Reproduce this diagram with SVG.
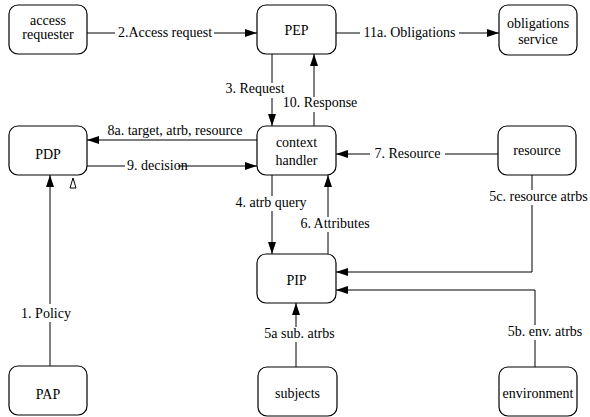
<svg xmlns="http://www.w3.org/2000/svg" width="590" height="417" viewBox="0 0 590 417">
<defs>
<marker id="ah" markerUnits="userSpaceOnUse" markerWidth="12" markerHeight="8" refX="12" refY="4" orient="auto">
<path d="M0,0 L12,4 L0,8 Z" fill="#000"/>
</marker>
<style>
.box{fill:#fff;stroke:#000;stroke-width:1.2}
.c{fill:none;stroke:#000;stroke-width:1}
.a{marker-end:url(#ah)}
.bg{fill:#fff}
</style>
</defs>
<rect width="590" height="417" fill="#fff"/>
<g id="connectors">
<path class="c a" d="M87,33 H257"/>
<path class="c a" d="M336,33 H499"/>
<path class="c a" d="M272,54 V126"/>
<path class="c a" d="M314,126 V54"/>
<path class="c a" d="M257,140 H87"/>
<path class="c" d="M87,166 H125"/>
<path class="c a" d="M178,166 H257"/>
<path class="c a" d="M50,366 V175"/>
<path class="c" d="M73,178 L70,188 L76,188 Z"/>
<path class="c a" d="M272,175 V254"/>
<path class="c a" d="M328,254 V175"/>
<path class="c a" d="M498,154 H336"/>
<path class="c a" d="M532,175 V272 H336"/>
<path class="c a" d="M535,367 V290 H336"/>
<path class="c a" d="M296,367 V303"/>
</g>
<g id="labels" font-family="Liberation Serif" font-size="14" text-anchor="middle">
<rect class="bg" x="115" y="26" width="99" height="14"/>
<text x="165" y="37">2.Access request</text>
<rect class="bg" x="360" y="26" width="99" height="14"/>
<text x="409.5" y="37">11a. Obligations</text>
<rect class="bg" x="224" y="83" width="62" height="15"/>
<text x="255" y="93">3. Request</text>
<rect class="bg" x="282" y="97" width="76" height="15"/>
<text x="320" y="107">10. Response</text>
<text x="175" y="135">8a. target, atrb, resource</text>
<text x="127" y="170" text-anchor="start">9. decision</text>
<rect class="bg" x="19" y="304" width="54" height="18"/>
<text x="46" y="318">1. Policy</text>
<rect class="bg" x="234" y="196" width="74" height="15"/>
<text x="271" y="207">4. atrb query</text>
<rect class="bg" x="299" y="217" width="72" height="15"/>
<text x="335" y="228">6. Attributes</text>
<rect class="bg" x="370" y="147" width="75" height="14"/>
<text x="407.5" y="158">7. Resource</text>
<rect class="bg" x="493" y="190" width="91" height="15"/>
<text x="538.5" y="201">5c. resource atrbs</text>
<rect class="bg" x="501" y="325" width="88" height="15"/>
<text x="545" y="336">5b. env. atrbs</text>
<rect class="bg" x="263" y="327" width="73" height="15"/>
<text x="299.5" y="338">5a sub. atrbs</text>
</g>
<g id="access-requester">
<rect class="box" x="9" y="5" width="78" height="49" rx="9"/>
<text x="48" y="25" text-anchor="middle" font-family="Liberation Serif" font-size="14">access</text>
<text x="48" y="39" text-anchor="middle" font-family="Liberation Serif" font-size="14">requester</text>
</g>
<g id="PEP">
<rect class="box" x="257" y="5" width="79" height="49" rx="9"/>
<text x="296.5" y="35" text-anchor="middle" font-family="Liberation Serif" font-size="14">PEP</text>
</g>
<g id="obligations-service">
<rect class="box" x="499" y="5" width="78" height="50" rx="9"/>
<text x="538" y="28" text-anchor="middle" font-family="Liberation Serif" font-size="14">obligations</text>
<text x="538" y="44" text-anchor="middle" font-family="Liberation Serif" font-size="14">service</text>
</g>
<g id="PDP">
<rect class="box" x="9" y="126" width="78" height="49" rx="9"/>
<text x="48" y="159" text-anchor="middle" font-family="Liberation Serif" font-size="14">PDP</text>
</g>
<g id="context-handler">
<rect class="box" x="257" y="126" width="79" height="49" rx="9"/>
<text x="296.5" y="147" text-anchor="middle" font-family="Liberation Serif" font-size="14">context</text>
<text x="296.5" y="165" text-anchor="middle" font-family="Liberation Serif" font-size="14">handler</text>
</g>
<g id="resource">
<rect class="box" x="498" y="126" width="78" height="49" rx="9"/>
<text x="537" y="155" text-anchor="middle" font-family="Liberation Serif" font-size="14">resource</text>
</g>
<g id="PIP">
<rect class="box" x="257" y="254" width="79" height="49" rx="9"/>
<text x="296.5" y="285" text-anchor="middle" font-family="Liberation Serif" font-size="14">PIP</text>
</g>
<g id="PAP">
<rect class="box" x="9" y="366" width="78" height="49" rx="9"/>
<text x="48" y="399" text-anchor="middle" font-family="Liberation Serif" font-size="14">PAP</text>
</g>
<g id="subjects">
<rect class="box" x="258" y="367" width="79" height="49" rx="9"/>
<text x="297.5" y="398" text-anchor="middle" font-family="Liberation Serif" font-size="14">subjects</text>
</g>
<g id="environment">
<rect class="box" x="499" y="367" width="78" height="49" rx="9"/>
<text x="538" y="398" text-anchor="middle" font-family="Liberation Serif" font-size="14">environment</text>
</g>
</svg>
